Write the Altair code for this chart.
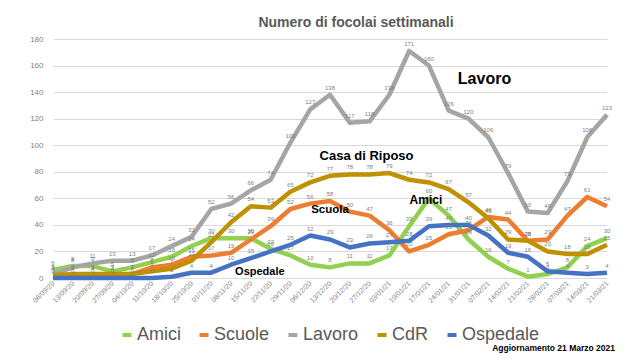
import altair as alt
import pandas as pd

dates = ["06/09/20", "13/09/20", "20/09/20", "27/09/20", "04/10/20", "11/10/20",
         "18/10/20", "25/10/20", "01/11/20", "08/11/20", "15/11/20", "22/11/20",
         "29/11/20", "06/12/20", "13/12/20", "20/12/20", "27/12/20", "03/01/21",
         "10/01/21", "17/01/21", "24/01/21", "31/01/21", "07/02/21", "14/02/21",
         "21/02/21", "28/02/21", "07/03/21", "14/03/21", "21/03/21"]

amici = [6, 9, 9, 5, 8, 12, 16, 24, 30, 30, 30, 22, 17, 10, 8, 11, 11, 17,
         39, 60, 47, 29, 16, 7, 1, 3, 8, 24, 30]
scuole = [2, 2, 2, 2, 3, 8, 10, 16, 17, 19, 29, 39, 52, 56, 58, 50, 47, 36,
          20, 25, 33, 36, 46, 44, 28, 29, 47, 61, 54]
lavoro = [3, 8, 11, 13, 13, 17, 24, 31, 52, 56, 66, 74, 102, 127, 138, 117, 118, 138,
          171, 160, 126, 120, 106, 79, 50, 49, 73, 106, 123]
cdr = [2, 3, 3, 3, 3, 5, 7, 13, 27, 42, 54, 53, 65, 72, 77, 78, 78, 79,
       74, 72, 67, 57, 45, 29, 28, 20, 18, 18, 25]
ospedale = [0, 0, 0, 0, 0, 0, 1, 4, 4, 10, 15, 20, 25, 32, 29, 23, 26, 27,
            28, 39, 40, 40, 32, 19, 16, 5, 4, 3, 4]

series_names = ["Amici", "Scuole", "Lavoro", "CdR", "Ospedale"]
series_colors = ["#92D050", "#ED7D31", "#A5A5A5", "#BF9000", "#4472C4"]
series_values = [amici, scuole, lavoro, cdr, ospedale]
y_ticks = [0, 20, 40, 60, 80, 100, 120, 140, 160, 180]

# annotations (text, anchor week, value, pixel shift, font size)
ann_text = ["Lavoro", "Casa di Riposo", "Scuola", "Amici", "Ospedale"]
ann_week = ["31/01/21", "27/12/20", "13/12/20", "17/01/21", "15/11/20"]
ann_value = [150, 92, 51, 59, 4.5]
ann_shift = [16, -3, 0, -3, 9]
ann_size = [16, 13, 11.5, 12, 11]

footer = "Aggiornamento 21 Marzo 2021"
title = "Numero di focolai settimanali"

rows = []
for name, vals in zip(series_names, series_values):
    for d, v in zip(dates, vals):
        rows.append({"Settimana": d, "Serie": name, "Valore": v})
df = pd.DataFrame(rows)

ann_df = pd.DataFrame({"testo": ann_text, "Settimana": ann_week, "Valore": ann_value,
                       "shift": ann_shift, "fs": ann_size})
foot_df = pd.DataFrame({"t": [footer]})

FONT = "Liberation Sans, Arial, sans-serif"

x_axis = alt.Axis(title=None, labelAngle=-45, labelAlign="right",
                  labelBaseline="middle", labelFontSize=7,
                  labelColor="#7f7f7f", ticks=False, domain=False,
                  grid=False, labelPadding=4, labelFont=FONT,
                  labelOverlap=False)
y_axis = alt.Axis(title=None, values=y_ticks,
                  labelFontSize=8, labelColor="#7f7f7f", ticks=False,
                  domain=False, gridColor="#d9d9d9", gridWidth=1,
                  labelPadding=10, labelFont=FONT, labelOverlap=False)
x_enc = alt.X("Settimana:N", sort=dates,
              scale=alt.Scale(type="point", padding=0), axis=x_axis)
y_enc = alt.Y("Valore:Q", scale=alt.Scale(domain=[0, 180], nice=False), axis=y_axis)

lines = alt.Chart(df).mark_line(strokeWidth=4.5, strokeJoin="round").encode(
    x=x_enc, y=y_enc,
    color=alt.Color("Serie:N", sort=series_names,
                    scale=alt.Scale(domain=series_names, range=series_colors),
                    legend=alt.Legend(orient="none", legendX=65, legendY=287,
                                      direction="horizontal", title=None,
                                      symbolType="stroke", symbolStrokeWidth=4,
                                      symbolSize=81, labelFontSize=18,
                                      labelColor="#595959", labelFont=FONT,
                                      columnPadding=10, labelOffset=1, padding=0)),
    detail="Serie:N",
)

labels = alt.Chart(df).mark_text(dy=-7, fontSize=6, color="#7f7f7f", font=FONT).encode(
    x=x_enc, y=y_enc, text="Valore:Q")

ann = alt.Chart(ann_df).mark_text(fontWeight="bold", color="black", font=FONT,
                                  baseline="middle").encode(
    x=x_enc, y=y_enc,
    xOffset=alt.XOffset("shift:Q", scale=None),
    size=alt.Size("fs:Q", scale=None, legend=None),
    text="testo:N")

foot = alt.Chart(foot_df).mark_text(align="right", baseline="middle", fontSize=8.5,
                                    fontWeight="bold", color="black",
                                    font=FONT).encode(
    x=alt.value(562), y=alt.value(309), text="t:N")

chart = alt.layer(lines, labels, ann, foot).properties(
    width=554, height=239,
    title=alt.TitleParams(title, fontSize=14, font=FONT, fontWeight="bold",
                          color="#595959", anchor="middle", dx=26, offset=5),
    autosize=alt.AutoSizeParams(type="none"),
    padding={"left": 45, "top": 31, "right": 25, "bottom": 76},
    background="white",
).configure_view(stroke=None).configure_axis(labelOverlap=False)

chart.save("out.html", embed_options={"renderer": "svg", "actions": False})
